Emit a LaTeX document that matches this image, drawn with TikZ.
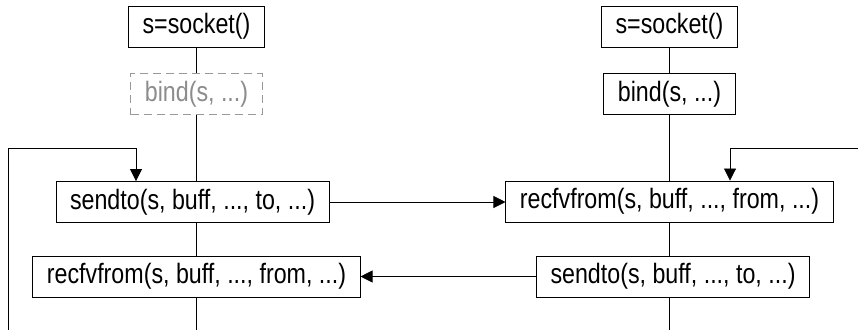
\documentclass[tikz,border=0pt]{standalone}
\usepackage{fontspec}
\setmainfont{Liberation Sans}[FakeStretch=0.83]
\usetikzlibrary{arrows.meta}

\begin{document}
\begin{tikzpicture}[x=1pt,y=-1pt,
  box/.style={draw,line width=0.9pt,minimum height=41pt,inner xsep=14pt,
    font=\fontsize{28}{32}\selectfont},
  ghost/.style={box,draw=black!40,text=black!45,dash pattern=on 8pt off 5pt},
  arr/.style={-{Triangle[length=12pt,width=12pt]}}]

\useasboundingbox (0,0) rectangle (858,330);

\begin{scope}
\node[box]   (ls)    at (196.5,26.5) {s=socket()};
\node[ghost] (lb)    at (196.5,94)   {bind(s, ...)};
\node[box]   (lsend) at (192.5,202)  {sendto(s, buff, ..., to, ...)};
\node[box]   (lrecv) at (196.5,276.5) {recfvfrom(s, buff, ..., from, ...)};

\node[box]   (rs)    at (669.5,26.5) {s=socket()};
\node[box]   (rb)    at (669.5,94)   {bind(s, ...)};
\node[box]   (rrecv) at (669.5,201.5) {recfvfrom(s, buff, ..., from, ...)};
\node[box]   (rsend) at (673,276.5)  {sendto(s, buff, ..., to, ...)};
\end{scope}

\coordinate (lend)  at (196.5,330);
\coordinate (rend)  at (669.5,330);
\coordinate (lfoot) at (8,330);
\coordinate (ltop)  at (8,148);
\coordinate (lhook) at (136,148);
\coordinate (rtop)  at (858,148);
\coordinate (rhook) at (730,148);

\begin{scope}[line width=0.8pt]
\draw (ls) -- (lb);
\draw (lb) -- (lb |- lsend.north);
\draw (lb |- lsend.south) -- (lrecv);
\draw (lrecv) -- (lend);

\draw (rs) -- (rb);
\draw (rb) -- (rrecv);
\draw (rrecv) -- (rrecv |- rsend.north);
\draw (rrecv |- rsend.south) -- (rend);
\end{scope}

\begin{scope}[line width=0.8pt,arr]
\draw (lsend.east) -- (rrecv.west |- lsend.east);
\draw (rsend.west) -- (lrecv.east |- rsend.west);
\draw (lfoot) -- (ltop) -- (lhook) -- (lhook |- lsend.north);
\draw (rtop) -- (rhook) -- (rhook |- rrecv.north);
\end{scope}

\end{tikzpicture}
\end{document}
